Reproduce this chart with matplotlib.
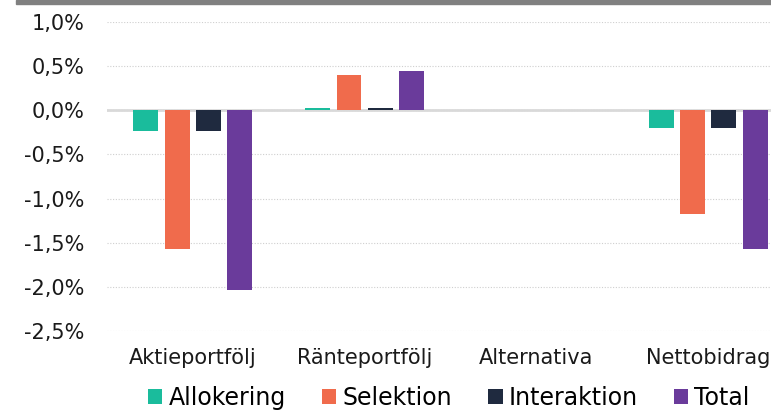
import matplotlib
matplotlib.use('Agg')
import matplotlib.pyplot as plt
import numpy as np
from matplotlib.patches import Rectangle
from matplotlib.ticker import FuncFormatter

categories = ['Aktieportfölj', 'Ränteportfölj', 'Alternativa', 'Nettobidrag']
series = ['Allokering', 'Selektion', 'Interaktion', 'Total']
allokering = [-0.23, 0.03, 0.0, -0.20]
selektion = [-1.57, 0.40, 0.0, -1.17]
interaktion = [-0.23, 0.03, 0.0, -0.20]
total = [-2.04, 0.45, 0.0, -1.57]
colors = ['#1abc9c', '#f06b4c', '#1f2a3f', '#6a3b9b']

values = [allokering, selektion, interaktion, total]

W, H = 771, 411
fig = plt.figure(figsize=(W / 100, H / 100), dpi=100)
# grey bar along the top
fig.patches.append(Rectangle((16 / W, 1 - 4 / H), 1, 4 / H,
                             transform=fig.transFigure, color='#808080', zorder=0))

ax = fig.add_axes([107 / W, 1 - 331 / H, 687 / W, 309 / H])

x = np.arange(len(categories))
step = 0.182
width = 0.1455
for i, (name, vals) in enumerate(zip(series, values)):
    ax.bar(x + (i - 1.5) * step, vals, width, color=colors[i], label=name, zorder=3)

ax.set_xlim(-0.5, 3.5)
ax.set_ylim(-2.5, 1.0)
ax.set_yticks(np.arange(-2.5, 1.01, 0.5))
ax.yaxis.set_major_formatter(FuncFormatter(lambda v, p: ('%.1f%%' % v).replace('.', ',')))
ax.grid(axis='y', linestyle=(0, (1, 1.5)), color='#cfcfcf', linewidth=0.8, zorder=0)
ax.axhline(0, color='#d9d9d9', linewidth=2, zorder=2)

for s in ax.spines.values():
    s.set_visible(False)
ax.tick_params(length=0)
ax.tick_params(axis='y', labelsize=15, pad=16.5)
ax.tick_params(axis='x', labelsize=15, pad=12)
ax.set_xticks(x)
ax.set_xticklabels(categories)
for lbl in ax.get_yticklabels() + ax.get_xticklabels():
    lbl.set_color('#1a1a1a')

leg = fig.legend(loc='lower center', bbox_to_anchor=(449 / W, -0.05), ncol=4, frameon=False,
                 fontsize=17, handlelength=0.6, handleheight=0.6, handletextpad=0.25,
                 columnspacing=1.55)

plt.savefig('out.png', dpi=100)
